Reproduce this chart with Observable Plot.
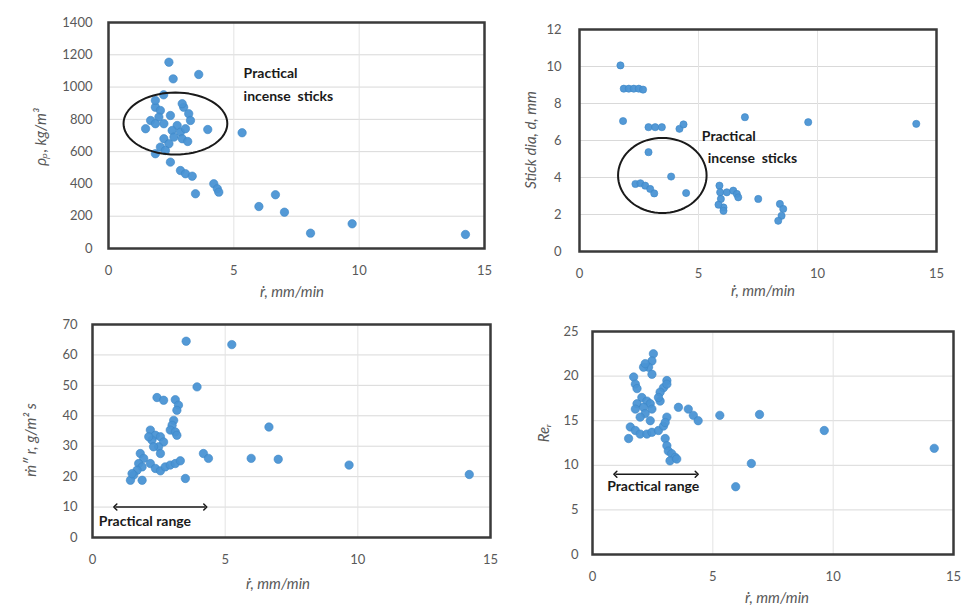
<!DOCTYPE html>
<html>
<head>
<meta charset="utf-8">
<script src="https://cdn.jsdelivr.net/npm/d3@7"></script>
<script src="https://cdn.jsdelivr.net/npm/@observablehq/plot@0.6"></script>
<style>
  html, body { margin: 0; padding: 0; background: #fff; }
  #wrap { position: relative; width: 961px; height: 606px; overflow: hidden; font-family: Lato, "Open Sans", sans-serif; }
  .panel { position: absolute; }
  .lab { position: absolute; color: #595959; font-style: italic; font-size: 15px; white-space: nowrap; font-family: Lato, "Open Sans", sans-serif; }
  .ylab { transform: translate(-50%, -50%) rotate(-90deg); }
  .xlab { transform: translate(-50%, -50%); }
</style>
</head>
<body>
<div id="wrap"></div>
<script>
// ---------- data ----------
const xTicks = [0, 5, 10, 15];

// Panel 1: burning rate vs density
const p1x = [2.41, 2.58, 3.60, 1.87, 2.07, 2.01, 1.68, 1.48, 1.87, 2.21, 2.47, 3.00, 3.20, 3.27, 2.74, 2.54, 2.87, 3.07, 2.61, 2.21, 2.94, 3.16, 2.41, 2.07, 1.87, 2.27, 3.96, 5.33, 2.47, 2.87, 3.07, 3.34, 4.20, 4.34, 4.40, 3.47, 6.66, 6.00, 7.02, 8.06, 9.72, 14.24, 1.87, 2.94, 2.20];
const p1y = [1154, 1051, 1078, 875, 855, 814, 793, 742, 773, 773, 824, 875, 835, 793, 762, 731, 721, 742, 690, 680, 680, 663, 649, 628, 587, 607, 737, 717, 535, 483, 463, 448, 401, 370, 349, 339, 333, 260, 225, 95, 153, 87, 917, 897, 952];
const p1yTicks = [0, 200, 400, 600, 800, 1000, 1200, 1400];

// Panel 2: burning rate vs stick diameter
const p2x = [1.72, 1.86, 2.07, 2.28, 2.49, 2.67, 1.83, 2.90, 3.18, 3.46, 4.20, 4.37, 6.95, 9.61, 14.15, 2.90, 2.35, 2.56, 2.76, 2.97, 3.14, 3.85, 4.48, 5.88, 5.91, 5.94, 6.05, 6.19, 6.46, 6.61, 6.67, 5.84, 6.05, 7.51, 8.42, 8.56, 8.49, 8.35];
const p2y = [10.06, 8.8, 8.8, 8.8, 8.8, 8.75, 7.05, 6.72, 6.72, 6.72, 6.63, 6.87, 7.26, 6.99, 6.90, 5.37, 3.65, 3.69, 3.56, 3.38, 3.14, 4.05, 3.16, 3.56, 3.20, 2.84, 2.38, 3.20, 3.29, 3.11, 2.93, 2.53, 2.20, 2.84, 2.57, 2.30, 1.93, 1.66];
const p2yTicks = [0, 2, 4, 6, 8, 10, 12];

// Panel 3: burning rate vs mass flux
const p3x = [3.53, 5.25, 3.94, 2.43, 2.68, 3.12, 3.24, 3.18, 3.06, 3.00, 2.93, 3.12, 3.18, 2.18, 2.37, 2.24, 2.12, 2.56, 2.68, 2.49, 2.56, 2.30, 1.80, 1.93, 1.74, 1.87, 1.68, 1.55, 1.43, 1.87, 2.18, 2.37, 2.56, 2.74, 2.93, 3.12, 3.31, 3.50, 4.18, 4.37, 5.98, 6.65, 7.00, 9.67, 14.20, 1.49];
const p3y = [64.5, 63.4, 49.5, 46.0, 45.1, 45.3, 43.5, 41.8, 38.5, 36.9, 35.3, 34.7, 33.6, 35.3, 33.6, 32.0, 33.1, 33.1, 31.4, 29.8, 27.6, 29.8, 27.6, 26.0, 24.3, 23.2, 22.1, 20.5, 18.8, 18.8, 24.3, 22.7, 21.9, 23.2, 23.8, 24.3, 25.2, 19.4, 27.6, 26.0, 26.0, 36.3, 25.7, 23.8, 20.7, 21.0];
const p3yTicks = [0, 10, 20, 30, 40, 50, 60, 70];

// Panel 4: burning rate vs Reynolds number
const p4x = [2.53, 2.47, 2.33, 2.12, 2.47, 2.19, 1.71, 1.78, 1.85, 3.09, 2.95, 2.81, 3.09, 2.05, 2.26, 2.40, 1.85, 2.12, 2.47, 1.78, 2.19, 1.98, 2.40, 2.81, 2.74, 3.57, 3.98, 4.19, 4.39, 5.29, 6.94, 1.57, 1.78, 1.50, 1.98, 2.26, 2.47, 2.74, 2.95, 3.09, 3.02, 3.02, 3.09, 3.15, 3.29, 3.43, 3.22, 3.50, 6.60, 5.95, 9.63, 14.20];
const p4y = [22.5, 21.7, 21.0, 21.0, 20.2, 21.4, 19.9, 19.1, 18.6, 19.5, 18.7, 18.2, 19.1, 17.6, 17.2, 16.9, 16.9, 16.5, 16.3, 16.3, 15.8, 15.4, 15.0, 17.2, 17.6, 16.5, 16.3, 15.6, 15.0, 15.6, 15.7, 14.3, 13.9, 13.0, 13.5, 13.5, 13.7, 13.9, 14.4, 15.4, 14.8, 13.0, 12.2, 11.6, 11.3, 10.9, 10.5, 10.7, 10.2, 7.6, 13.9, 11.9];
const p4yTicks = [0, 5, 10, 15, 20, 25];

// Annotations (data units): ellipse [cx, cy, rx, ry]
const ell1 = [2.67, 774, 2.07, 192];
const ell2 = [3.48, 4.11, 1.86, 2.03];
const note1 = [{x: 5.39, y: 1086, t: "Practical"}, {x: 5.39, y: 944, t: "incense  sticks"}];
const note2 = [{x: 5.14, y: 6.22, t: "Practical"}, {x: 5.39, y: 5.02, t: "incense  sticks"}];
const range3 = [{x1: 0.86, x2: 4.25, y: 10}];
const note3 = [{x: 0.24, y: 5.1, t: "Practical range"}];
const range4 = [{x1: 0.95, x2: 4.33, y: 9}];
const note4 = [{x: 0.61, y: 7.6, t: "Practical range"}];

// ---------- drawing ----------
const BLUE = "#4a94d4";
const toPts = (xs, ys) => xs.map((x, i) => ({x, y: ys[i]}));
function ellipsePts([cx, cy, rx, ry]) {
  return d3.range(0, 72).map(k => {
    const a = k / 72 * 2 * Math.PI;
    return {x: cx + rx * Math.cos(a), y: cy + ry * Math.sin(a)};
  });
}

function panel(o, startMarker) {
  const marks = [
    Plot.gridY(o.yTicks.slice(1, -1), {stroke: "#d9d9d9", strokeOpacity: 1, strokeWidth: 1}),
    Plot.gridX([5, 10], {stroke: "#e3e3e3", strokeOpacity: 1, strokeWidth: 1}),
    Plot.axisX(xTicks, {tickSize: 0, tickPadding: 17, label: null, fill: "#595959", tickFormat: d => String(d)}),
    Plot.axisY(o.yTicks, {tickSize: 0, tickPadding: o.yPad ?? 15, label: null, fill: "#595959", tickFormat: d => String(d)}),
    Plot.dot(toPts(o.xs, o.ys), {x: "x", y: "y", r: o.r ?? 4.2, fill: BLUE, fillOpacity: 0.95, stroke: "#3d86c6", strokeWidth: 0.6}),
    Plot.frame({stroke: "#3a3a3a", strokeWidth: 2.5})
  ];
  if (o.ell) marks.push(Plot.line(ellipsePts(o.ell), {x: "x", y: "y", curve: "linear-closed", stroke: "#1a1a1a", strokeWidth: 2}));
  if (o.range) marks.push(Plot.link(o.range, {x1: "x1", x2: "x2", y1: "y", y2: "y", stroke: "#1a1a1a", strokeWidth: 1.5, markerStart: startMarker, markerEnd: "arrow"}));
  if (o.notes) marks.push(Plot.text(o.notes, {x: "x", y: "y", text: "t", textAnchor: "start", fill: "#1a1a1a", fontWeight: "bold", fontSize: 14}));
  const svg = Plot.plot({
    width: o.w, height: o.h,
    marginLeft: o.ml, marginRight: o.mr, marginTop: o.mt, marginBottom: o.mb,
    x: {domain: [0, 15]},
    y: {domain: [0, o.yTicks[o.yTicks.length - 1]]},
    style: {fontFamily: "Lato, 'Open Sans', sans-serif", fontSize: "13px", color: "#595959", background: "transparent", overflow: "visible"},
    marks
  });
  svg.classList.add("panel");
  svg.style.left = o.left + "px";
  svg.style.top = o.top + "px";
  return svg;
}
function safePanel(o) {
  try { return panel(o, "arrow-reverse"); } catch (e) { return panel(o, "dot"); }
}

const wrap = document.getElementById("wrap");
wrap.append(
  safePanel({left: 0, top: 0, w: 490, h: 300, ml: 108, mr: 6, mt: 22, mb: 52, xs: p1x, ys: p1y, yTicks: p1yTicks, ell: ell1, notes: note1, yPad: 16}),
  safePanel({left: 490, top: 0, w: 471, h: 300, ml: 89, mr: 25, mt: 29, mb: 49, xs: p2x, ys: p2y, yTicks: p2yTicks, ell: ell2, notes: note2, r: 3.6, yPad: 18}),
  safePanel({left: 0, top: 300, w: 495, h: 306, ml: 92, mr: 5, mt: 24, mb: 69, xs: p3x, ys: p3y, yTicks: p3yTicks, range: range3, notes: note3}),
  safePanel({left: 495, top: 300, w: 466, h: 306, ml: 97, mr: 8, mt: 31, mb: 52, xs: p4x, ys: p4y, yTicks: p4yTicks, range: range4, notes: note4, yPad: 14})
);

// axis titles
const labels = [
  {t: "ṙ, mm/min", x: 292, y: 291, cls: "xlab"},
  {t: "ρₚ, kg/m³", x: 40, y: 137, cls: "ylab"},
  {t: "ṙ, mm/min", x: 763, y: 290, cls: "xlab"},
  {t: "Stick dia, d, mm", x: 530, y: 140, cls: "ylab"},
  {t: "ṙ, mm/min", x: 278, y: 583, cls: "xlab"},
  {t: "ṁ″ r, g/m² s", x: 30, y: 440, cls: "ylab"},
  {t: "ṙ, mm/min", x: 777, y: 597, cls: "xlab"},
  {t: "Reᵣ", x: 543, y: 433, cls: "ylab"}
];
for (const l of labels) {
  const d = document.createElement("div");
  d.className = "lab " + l.cls;
  d.textContent = l.t;
  d.style.left = l.x + "px";
  d.style.top = l.y + "px";
  wrap.append(d);
}
</script>
</body>
</html>
